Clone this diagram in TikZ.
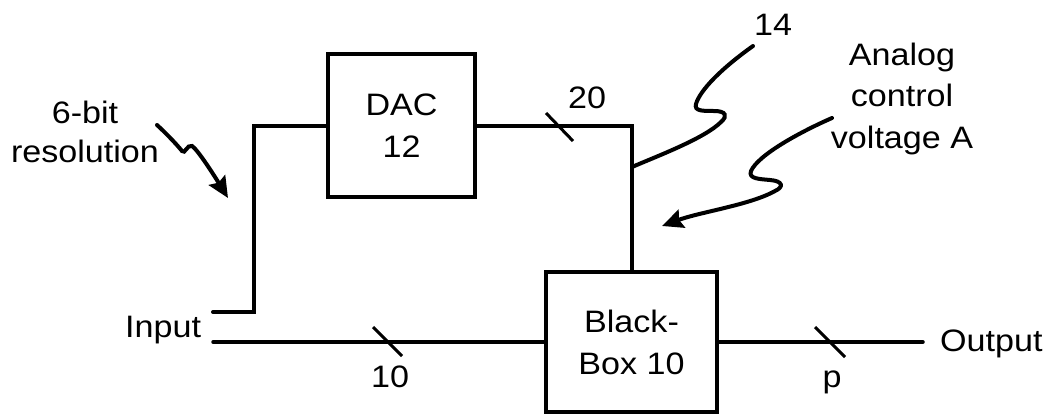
\documentclass[tikz,border=0pt]{standalone}
\usepackage{fontspec}
\setmainfont{Liberation Sans}[FakeStretch=1.1]
\usetikzlibrary{arrows.meta}
\begin{document}
\begin{tikzpicture}[x=1pt,y=-1pt,
  wire/.style={line width=4pt,line cap=round,line join=miter},
  blk/.style={draw,line width=4.5pt,inner sep=0pt,align=center,font=\fontsize{31}{42}\selectfont},
  tick/.style={line width=3pt},
  lbl/.style={inner sep=0pt,font=\fontsize{31}{41}\selectfont},
  squig/.style={line width=4pt,line cap=round},
  sarrow/.style={squig,-{Stealth[length=21pt,width=19pt,inset=3pt]}}]
\useasboundingbox (0,0) rectangle (1054,415);
% blocks
\node[blk,minimum width=147pt,minimum height=143pt] (dac) at (401.5,125.5) {DAC\\12};
\node[blk,minimum width=171pt,minimum height=140pt] (bb) at (631.5,342) {Black-\\Box 10};
% coordinates
\coordinate (in1) at (213,312);
\coordinate (c1) at (254,312);
\coordinate (in2) at (213,342);
\coordinate (out) at (923,342);
\coordinate (j) at (632,167);
% wires
\draw[wire] (in1) -- (c1) |- (dac.west);
\draw[wire] (dac.east) -| (bb.north);
\draw[wire,line width=3.5pt] (in2) -- (in2 -| bb.west);
\draw[wire,line width=3.5pt] (bb.east |- out) -- (out);
% ticks
\coordinate (t20) at (559.5,127);
\coordinate (t10) at (387.5,341.5);
\coordinate (tp) at (830,342);
\draw[tick] ([shift={(-13.5,-14)}]t20) -- ([shift={(13.5,14)}]t20);
\draw[tick] ([shift={(-14.5,-14.5)}]t10) -- ([shift={(14.5,14.5)}]t10);
\draw[tick] ([shift={(-15,-15)}]tp) -- ([shift={(15,15)}]tp);
% labels
\node[lbl,anchor=base] (l20) at (587,108) {20};
\node[lbl,anchor=base] (l10) at (390,387) {10};
\node[lbl,anchor=base] (lp) at (832,387) {p};
\node[lbl,anchor=base] (l14) at (773,35) {14};
\node[lbl,anchor=base west] (lin) at (125,337) {Input};
\node[lbl,anchor=base west] (lout) at (940,351) {Output};
\node[lbl,anchor=base,align=center,font=\fontsize{31}{39}\selectfont] (l6) at (85,162) {6-bit\\resolution};
\node[lbl,anchor=base,align=center,font=\fontsize{31}{41.5}\selectfont] (lan) at (902,148) {Analog\\control\\voltage A};
% squiggles
\coordinate (s6) at (157,125);
\coordinate (e6) at (228,198);
\draw[sarrow] (s6) .. controls (168,135) and (178,146) .. (182,151) .. controls (185,155) and (187,144) .. (192,146) .. controls (197,149) and (212,172) .. (e6);
\coordinate (s14) at (753,46);
\draw[squig] (s14) .. controls (722,68) and (700,90) .. (696,104) .. controls (694,111) and (702,111) .. (714,111) .. controls (726,111) and (728,116) .. (721,122) .. controls (705,138) and (660,155) .. (j);
\coordinate (sa) at (832,118);
\coordinate (ea) at (662,226);
\draw[sarrow] (sa) .. controls (800,132) and (758,155) .. (751,171) .. controls (748,179) and (760,179) .. (770,180) .. controls (783,181) and (784,187) .. (775,191) .. controls (750,205) and (700,212) .. (ea);
\end{tikzpicture}
\end{document}
